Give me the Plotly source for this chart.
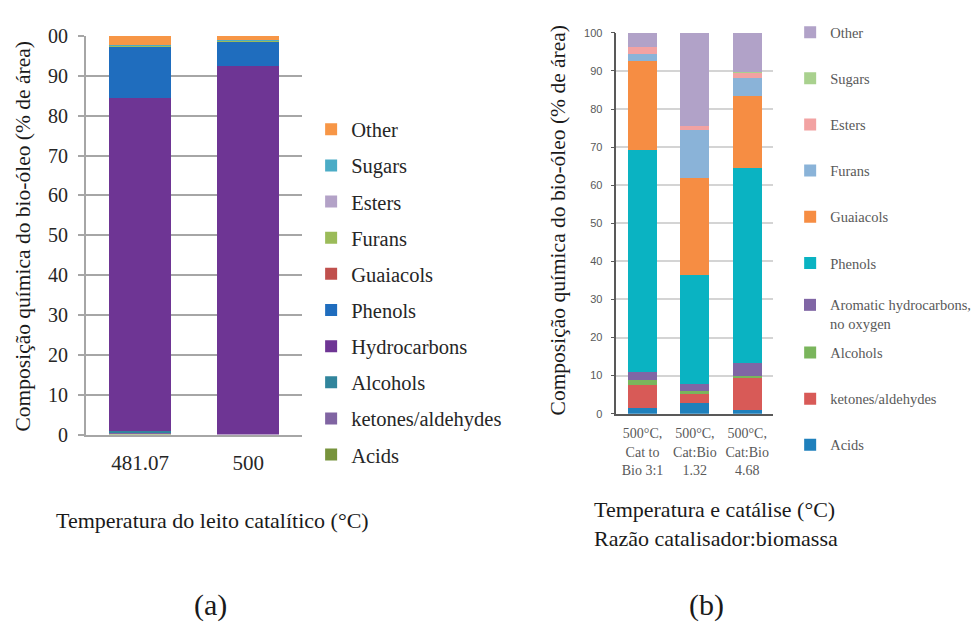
import plotly.graph_objects as go

# ---------------- (a) catalytic bed temperature ----------------
temps_a = ["481.07", "500"]
names_a = ["Acids", "ketones/aldehydes", "Alcohols", "Hydrocarbons", "Phenols",
           "Guaiacols", "Furans", "Esters", "Sugars", "Other"]
acids_a = [0.3, 0.0]
ketones_a = [0.3, 0.0]
alcohols_a = [0.4, 0.0]
hydrocarbons_a = [83.5, 92.6]
phenols_a = [12.8, 6.0]
guaiacols_a = [0.0, 0.0]
furans_a = [0.2, 0.3]
esters_a = [0.0, 0.0]
sugars_a = [0.2, 0.1]
other_a = [2.3, 1.0]
colors_a = ["#77933C", "#8064A2", "#31859C", "#6E3594", "#1F6DBE",
            "#C0504D", "#9BBB59", "#B3A2C7", "#4BACC6", "#F79646"]
ticks_a = [0, 10, 20, 30, 40, 50, 60, 70, 80, 90, 100]
ticktext_a = ["0", "10", "20", "30", "40", "50", "60", "70", "80", "90", "00"]

# ---------------- (b) temperature and catalyst:biomass ratio ----------------
cats_b = ["500°C,<br>Cat to<br>Bio 3:1", "500°C,<br>Cat:Bio<br>1.32", "500°C,<br>Cat:Bio<br>4.68"]
names_b = ["Acids", "ketones/aldehydes", "Alcohols", "Aromatic hydrocarbons,<br>no oxygen",
           "Phenols", "Guaiacols", "Furans", "Esters", "Sugars", "Other"]
acids_b = [1.6, 2.7, 0.9]
ketones_b = [5.9, 2.6, 8.7]
alcohols_b = [1.3, 0.6, 0.3]
aromatic_b = [2.2, 2.0, 3.3]
phenols_b = [58.3, 28.6, 51.2]
guaiacols_b = [23.4, 25.3, 18.9]
furans_b = [1.8, 12.7, 4.9]
esters_b = [1.8, 1.1, 1.4]
sugars_b = [0.0, 0.0, 0.1]
other_b = [3.7, 24.4, 10.3]
colors_b = ["#1F80BC", "#D85A57", "#7AB55C", "#8066A5", "#0AB3C2",
            "#F68D43", "#8AB3D8", "#F2A2A2", "#A9D18E", "#B1A2C8"]
ticks_b = [0, 10, 20, 30, 40, 50, 60, 70, 80, 90, 100]

values_a = [acids_a, ketones_a, alcohols_a, hydrocarbons_a, phenols_a,
            guaiacols_a, furans_a, esters_a, sugars_a, other_a]
values_b = [acids_b, ketones_b, alcohols_b, aromatic_b, phenols_b,
            guaiacols_b, furans_b, esters_b, sugars_b, other_b]

SERIF = "Liberation Serif"
W, H = 976, 628
DARK = "#1A1A1A"

fig = go.Figure()

# stacked bottom-to-top; legend lists the top segment first
for i, (name, vals, col) in enumerate(zip(names_a, values_a, colors_a)):
    fig.add_trace(go.Bar(
        x=temps_a, y=vals, name=name, marker=dict(color=col, line=dict(width=0)),
        width=0.57, xaxis="x", yaxis="y", legend="legend",
        legendgroup="a_" + name, legendrank=len(names_a) - i,
    ))

# right-hand legend is split so the two-line entry keeps the regular spacing
for i, (name, vals, col) in enumerate(zip(names_b, values_b, colors_b)):
    if i < 3:
        lg = "legend4"
    elif i == 3:
        lg = "legend3"
    else:
        lg = "legend2"
    fig.add_trace(go.Bar(
        x=cats_b, y=vals, name=name, marker=dict(color=col, line=dict(width=0)),
        width=0.55, xaxis="x2", yaxis="y2", legend=lg,
        legendgroup="b_" + name, legendrank=len(names_b) - i,
    ))

legend_b_style = dict(
    xanchor="left", yanchor="top", traceorder="grouped", tracegroupgap=24.3,
    valign="top", font=dict(family=SERIF, size=14.5, color="#595959"),
    bgcolor="rgba(0,0,0,0)", itemclick=False, itemdoubleclick=False,
)

fig.update_layout(
    width=W, height=H,
    margin=dict(l=0, r=0, t=0, b=0),
    paper_bgcolor="white", plot_bgcolor="white",
    barmode="stack",
    font=dict(family=SERIF, color="#262626"),
    xaxis=dict(
        domain=[87 / W, 306 / W], anchor="y", range=[-0.5, 1.5],
        showline=True, linecolor="#A6A6A6", linewidth=2,
        ticks="", tickfont=dict(family=SERIF, size=21, color="#262626"),
        ticklabelstandoff=8, showgrid=False,
    ),
    yaxis=dict(
        domain=[1 - 439 / H, 1 - 26 / H], anchor="x", range=[0, 100],
        tickvals=ticks_a, ticktext=ticktext_a,
        showline=True, linecolor="#A6A6A6", linewidth=2,
        ticks="outside", ticklen=6, tickcolor="#A6A6A6", tickwidth=2,
        showgrid=True, gridcolor="#A6A6A6", gridwidth=2, zeroline=False,
        tickfont=dict(family=SERIF, size=20, color="#262626"),
        ticklabelstandoff=6,
    ),
    xaxis2=dict(
        domain=[624 / W, 783 / W], anchor="y2", range=[-0.5, 2.5],
        showline=True, linecolor="#595959", linewidth=2,
        ticks="", tickfont=dict(family=SERIF, size=14, color="#595959"),
        ticklabelstandoff=6, showgrid=False,
    ),
    yaxis2=dict(
        domain=[1 - 417.3 / H, 1 - 22.7 / H], anchor="x2", range=[0, 100],
        tickvals=ticks_b,
        showline=True, linecolor="#595959", linewidth=1.5,
        ticks="outside", ticklen=4, tickcolor="#595959", tickwidth=1,
        showgrid=True, gridcolor="#D4D4D4", gridwidth=1.5, zeroline=False,
        tickfont=dict(family="Liberation Sans", size=11, color="#595959"),
        ticklabelstandoff=6,
    ),
    legend=dict(
        x=315 / W, y=1 - 102 / H, xanchor="left", yanchor="top",
        traceorder="grouped", tracegroupgap=6.5,
        font=dict(family=SERIF, size=20.5, color="#262626"),
        bgcolor="rgba(0,0,0,0)", itemclick=False, itemdoubleclick=False,
    ),
    legend2=dict(x=800 / W, y=1 - 5.4 / H, **legend_b_style),
    legend3=dict(x=800 / W, y=1 - 288 / H, **legend_b_style),
    legend4=dict(x=800 / W, y=1 - 337.4 / H, **legend_b_style),
    annotations=[
        dict(text="Composição química do bio-óleo (% de área)", textangle=-90,
             x=23 / W, y=1 - 234 / H, xref="paper", yref="paper",
             xanchor="center", yanchor="middle", showarrow=False,
             font=dict(family=SERIF, size=21.5, color=DARK)),
        dict(text="Composição química do bio-óleo (% de área)", textangle=-90,
             x=565 / W, y=1 - 217 / H, xref="paper", yref="paper",
             xanchor="center", yanchor="middle", showarrow=False,
             font=dict(family=SERIF, size=21.5, color=DARK)),
        dict(text="Temperatura do leito catalítico (°C)",
             x=215 / W, y=1 - 528 / H, xref="paper", yref="paper",
             xanchor="center", yanchor="middle", showarrow=False,
             font=dict(family=SERIF, size=22, color=DARK)),
        dict(text="Temperatura e catálise (°C)<br>Razão catalisador:biomassa", align="left",
             x=599 / W, y=1 - 531.5 / H, xref="paper", yref="paper",
             xanchor="left", yanchor="middle", showarrow=False,
             font=dict(family=SERIF, size=22, color=DARK)),
        dict(text="(a)", x=213 / W, y=1 - 616 / H, xref="paper", yref="paper",
             xanchor="center", yanchor="middle", showarrow=False,
             font=dict(family=SERIF, size=30, color=DARK)),
        dict(text="(b)", x=715 / W, y=1 - 616 / H, xref="paper", yref="paper",
             xanchor="center", yanchor="middle", showarrow=False,
             font=dict(family=SERIF, size=30, color=DARK)),
    ],
)

fig.write_html("out.html")
